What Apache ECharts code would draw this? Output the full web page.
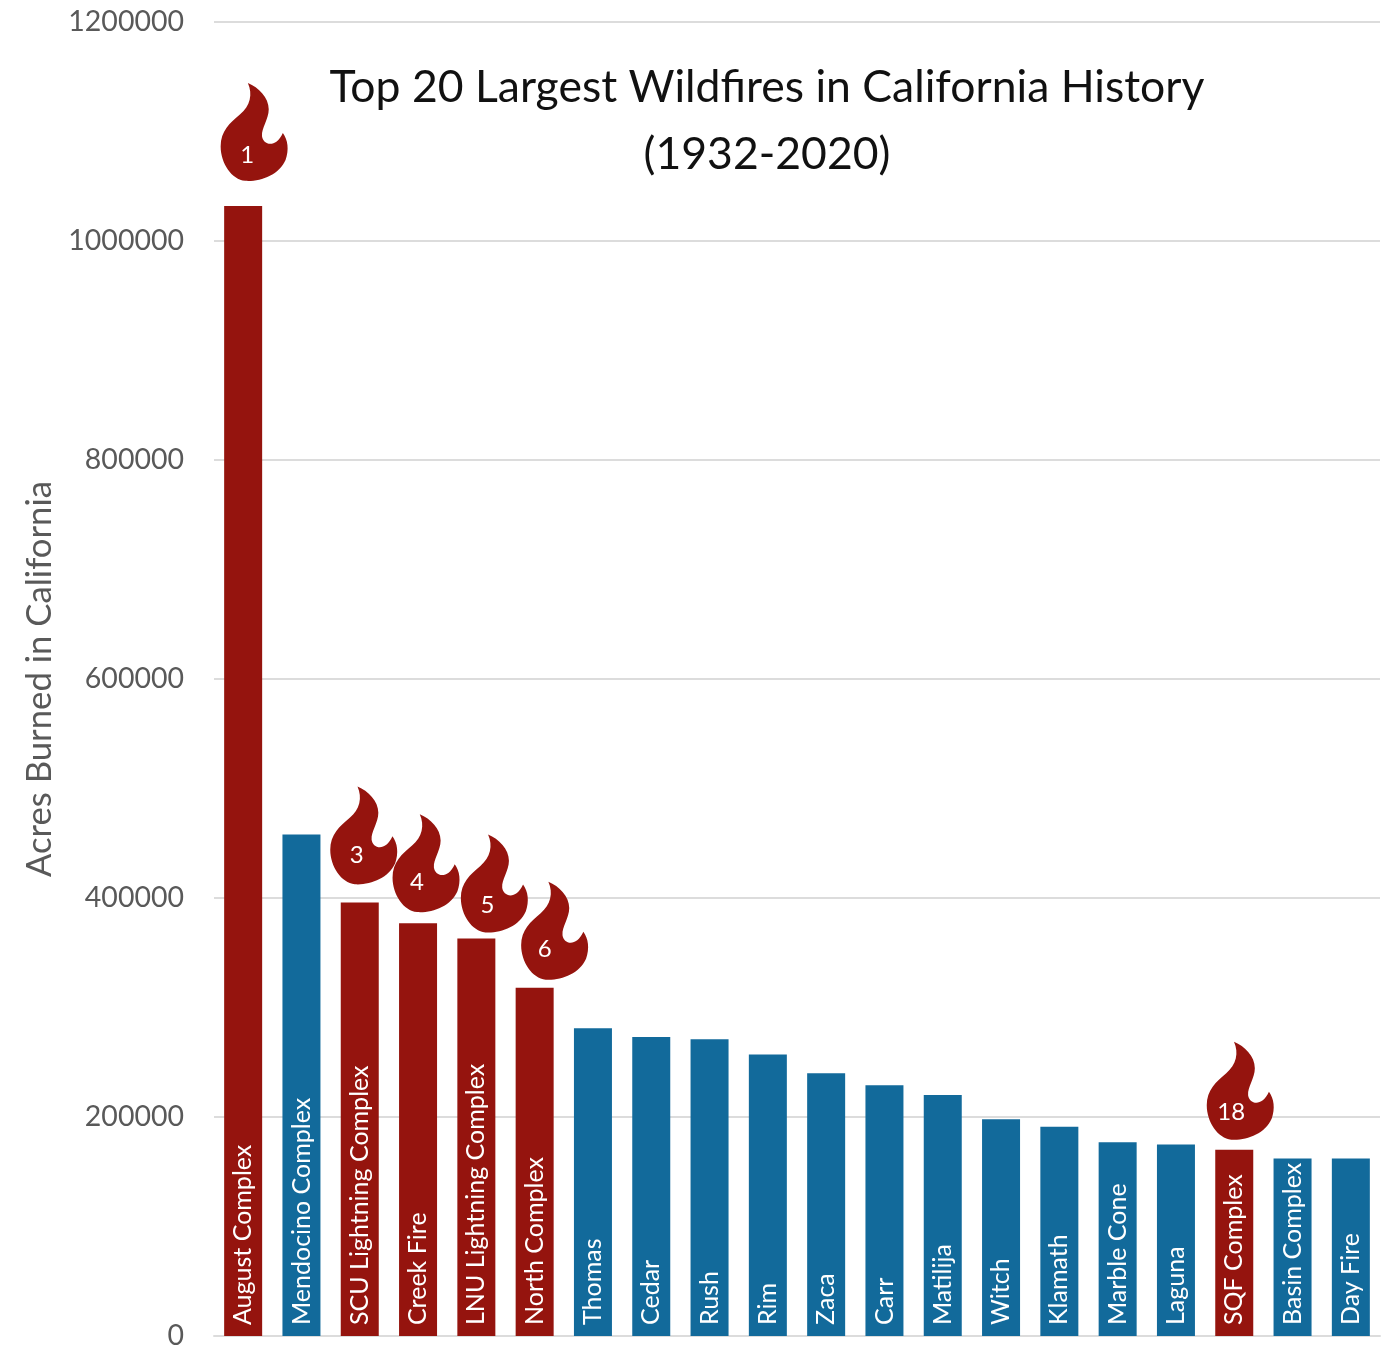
<!DOCTYPE html>
<html><head><meta charset="utf-8">
<style>html,body{margin:0;padding:0;background:#fff}#c{width:1383px;height:1345px}</style>
<script src="https://cdn.jsdelivr.net/npm/echarts@6/dist/echarts.min.js"></script>
</head><body><div id="c"></div>
<script>
const categories = ['August Complex','Mendocino Complex','SCU Lightning Complex','Creek Fire','LNU Lightning Complex','North Complex','Thomas','Cedar','Rush','Rim','Zaca','Carr','Matilija','Witch','Klamath','Marble Cone','Laguna','SQF Complex','Basin Complex','Day Fire'];
const acres = [1032000,458000,396000,377000,363000,318000,281000,273000,271000,257000,240000,229000,220000,198000,191000,177000,175000,170000,162000,162000];
const flameRanks = [1,3,4,5,6,18];
const titleLines = ['Top 20 Largest Wildfires in California History','(1932-2020)'];

const RED='#95140E', BLUE='#126A9B';
const flamePath='path://M143 72 C175 85 205 115 205 150 C205 180 183 205 185 230 C188 255 225 268 247 220 C262 240 266 270 255 300 C235 345 180 365 135 362 C95 358 62 310 62 260 C62 215 90 190 120 165 C150 140 158 105 143 72 Z';
const flameShift={1:[11,-74],3:[4,-67],4:[8,-60],5:[18,-55],6:[20,-57],18:[6,-59]};
const digitShift={1:[-7,23],3:[-7,20],4:[-9,19],5:[-7,22],6:[-10,18],18:[-9,21]};

const chart=echarts.init(document.getElementById('c'),null,{renderer:'canvas'});
chart.setOption({
  animation:false,
  backgroundColor:'#fff',
  textStyle:{fontFamily:'Lato'},
  title:{text:titleLines.join('\n'),left:762,top:49,textAlign:'center',
    textStyle:{fontFamily:'Lato',fontWeight:'normal',fontSize:44.5,color:'#111',lineHeight:67}},
  grid:{left:214,right:3,top:22,height:1314,outerBoundsMode:'none',containLabel:false},
  xAxis:{type:'category',data:categories,
    axisLine:{show:true,lineStyle:{color:'#DCDCDC',width:2}},
    axisTick:{show:false},axisLabel:{show:false}},
  yAxis:{type:'value',min:0,max:1200000,interval:200000,
    name:'Acres Burned in California',nameLocation:'middle',nameRotate:90,nameGap:151,
    nameTextStyle:{fontFamily:'Lato',fontSize:34.7,color:'#595959'},
    axisLine:{show:false},axisTick:{show:false},
    axisLabel:{fontFamily:'Lato',fontSize:28.5,color:'#595959',margin:30,formatter:v=>String(v)},
    splitLine:{lineStyle:{color:'#DCDCDC',width:2}}},
  series:[
    {type:'bar',barWidth:38,z:2,
     data:acres.map((v,i)=>({value:v,itemStyle:{color:flameRanks.includes(i+1)?RED:BLUE}})),
     label:{show:true,position:'insideBottom',rotate:90,distance:10,align:'left',verticalAlign:'middle',
       offset:[1,0],formatter:'{b}',color:'#fff',fontFamily:'Lato',fontSize:25}},
    {type:'scatter',z:3,symbol:flamePath,symbolSize:[67,98],
     data:flameRanks.map(r=>({value:[r-1,acres[r-1]],symbolOffset:flameShift[r],label:{offset:digitShift[r]}})),
     itemStyle:{color:RED,opacity:1},
     label:{show:true,position:'inside',formatter:p=>String(p.data.value[0]+1),color:'#fff',fontFamily:'Lato',fontSize:24}}
  ]
});
</script></body></html>
